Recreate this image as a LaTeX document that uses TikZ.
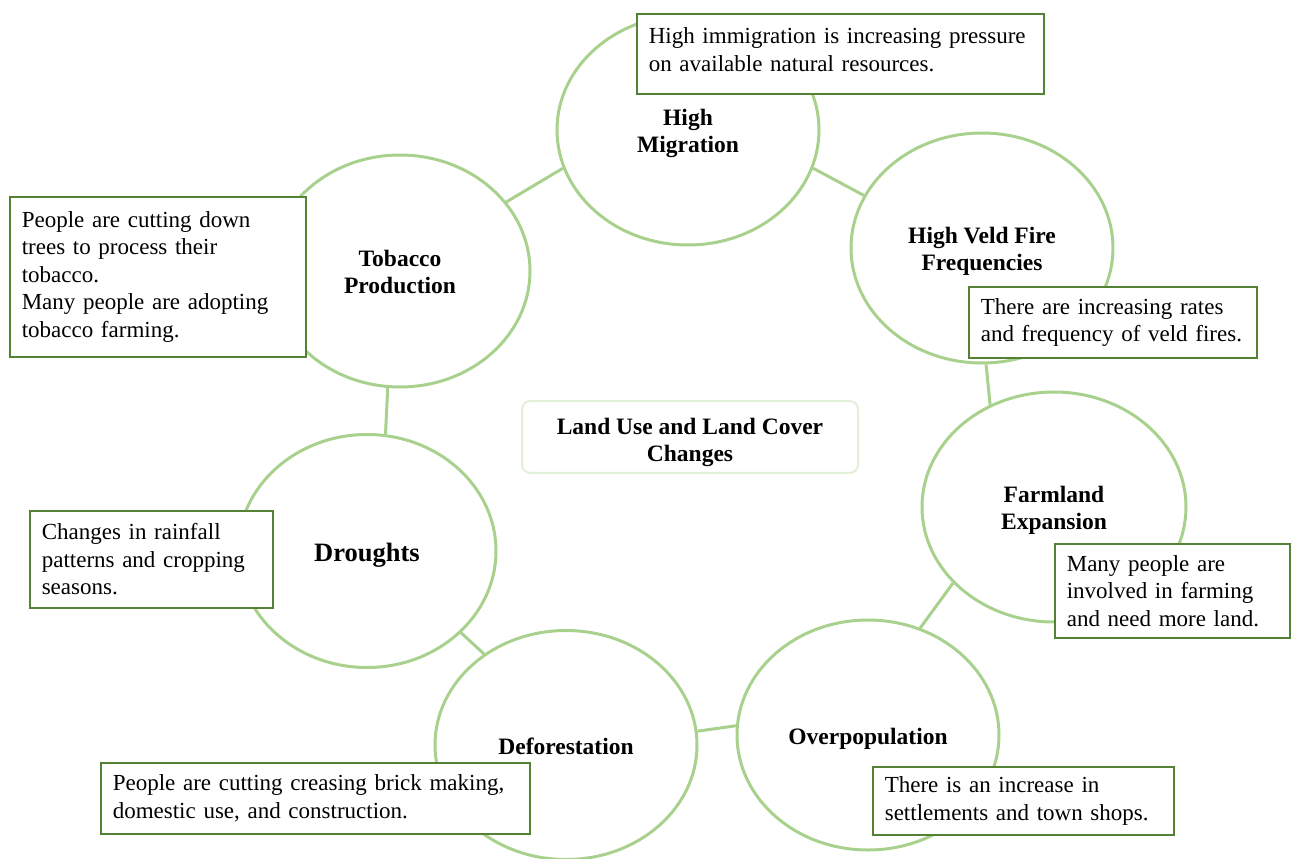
\documentclass[tikz,border=0pt]{standalone}
\usepackage{fontspec}
\setmainfont{Liberation Serif}
\usetikzlibrary{shapes.geometric}
\definecolor{ringgreen}{HTML}{A9D18E}
\definecolor{boxgreen}{HTML}{548235}
\definecolor{palegreen}{HTML}{E2EFD9}
\newcommand{\notefont}{\fontsize{23}{27.5}\selectfont}
\newcommand{\causefont}{\fontsize{23.5}{27}\selectfont\bfseries}
% label sits a little below the middle of its ring
\newcommand{\lbl}[2][8pt]{\raisebox{0pt}[\dimexpr\height+#1\relax][\depth]{\begin{tabular}{@{}c@{}}#2\end{tabular}}}
\begin{document}
\begin{tikzpicture}[x=1pt,y=-1pt]
\tikzstyle{cause}=[ellipse, draw=ringgreen, line width=3pt, minimum width=262pt, minimum height=230pt, inner sep=0pt, font=\causefont]
\tikzstyle{note}=[rectangle, draw=boxgreen, line width=1.6pt, fill=white, anchor=north west, align=left, inner xsep=12pt, inner ysep=0pt, font=\notefont]
\tikzstyle{link}=[draw=ringgreen, line width=3pt]
	\useasboundingbox (0,0) rectangle (1291,859);
	% the seven causes
	\node[cause] (mig) at (688,130) {\lbl{High\\Migration}};
	\node[cause] (veld) at (982,248) {\lbl{High Veld Fire\\Frequencies}};
	\node[cause, minimum height=232pt, minimum width=260pt] (tob) at (400,271) {\lbl{Tobacco\\Production}};
	\node[cause, minimum width=264pt] (farm) at (1054,507) {\lbl{Farmland\\Expansion}};
	\node[cause] (over) at (868,735) {\lbl{Overpopulation}};
	\node[cause, minimum height=229pt] (defo) at (566,745) {\lbl{Deforestation}};
	\node[cause, minimum width=258pt, minimum height=233pt, font=\fontsize{26.5}{30}\selectfont\bfseries] (drou) at (367,551) {\lbl{Droughts}};
	% ring of links
	\draw[link] (tob.33) -- (mig.197);
	\draw[link] (mig.-17) -- (veld.156);
	\draw[link] (veld.-88) -- (farm.122);
	\draw[link] (farm.217) -- (over.64);
	\draw[link] (over.176) -- (defo.6.5);
	\draw[link] (defo.132) -- (drou.-41);
	\draw[link] (drou.81) -- (tob.-96);
	% centre
	\node[rectangle, rounded corners=8pt, draw=palegreen, line width=2pt, minimum width=336pt, minimum height=70pt, font=\causefont] (lulc) at (690,437) {\lbl[11pt]{Land Use and Land Cover\\Changes}};
	% explanations
	\node[note, text width=383pt, minimum height=80pt] (migtxt) at (636,13) {High immigration is increasing pressure\\on available natural resources.\par\kern8pt};
	\node[note, text width=272pt, minimum height=160pt] (tobtxt) at (9,196) {People are cutting down\\trees to process their\\tobacco.\\Many people are adopting\\tobacco farming.};
	\node[note, text width=264pt, minimum height=71pt] (veldtxt) at (968,286) {There are increasing rates\\and frequency of veld fires.};
	\node[note, text width=211pt, minimum height=94pt] (farmtxt) at (1054,543) {Many people are\\involved in farming\\and need more land.};
	\node[note, text width=219pt, minimum height=97pt] (droutxt) at (29,510) {Changes in rainfall\\patterns and cropping\\seasons.};
	\node[note, text width=405pt, minimum height=71pt] (defotxt) at (100,762) {People are cutting creasing brick making,\\domestic use, and construction.};
	\node[note, text width=277pt, minimum height=68pt] (overtxt) at (872,766) {There is an increase in\\settlements and town shops.};
\end{tikzpicture}
\end{document}
